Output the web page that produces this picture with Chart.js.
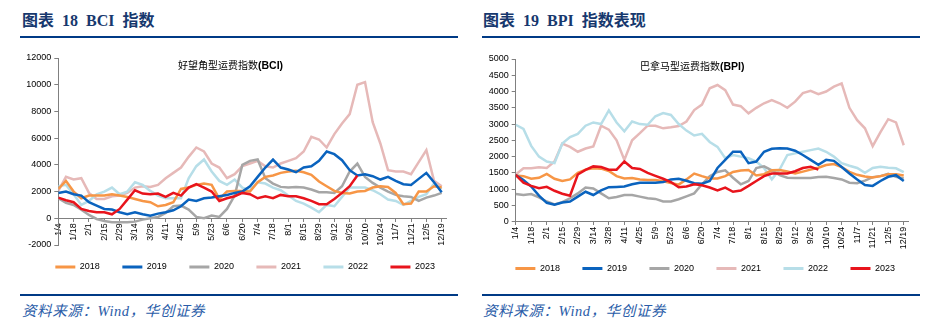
<!DOCTYPE html>
<html>
<head>
<meta charset="utf-8">
<script src="https://cdn.jsdelivr.net/npm/chart.js@4.4.1/dist/chart.umd.min.js"></script>
<style>
  body { margin: 0; width: 930px; height: 335px; background: #fff; position: relative; overflow: hidden; }
  .ttl { position: absolute; top: 12px; font: bold 16px/18px "Liberation Serif", "Noto Sans CJK SC", serif; color: #17386e; word-spacing: 4px; white-space: pre; }
  .rule { position: absolute; height: 2px; background: #003a86; }
  .src { position: absolute; top: 303px; font: italic 14.5px/16px "Liberation Serif", "Noto Sans CJK SC", serif; color: #2a5ca8; letter-spacing: 0.6px; white-space: pre; }
  .box { position: absolute; top: 40px; width: 465px; height: 250px; }
  .sub { position: absolute; font: 10px/12px "Noto Sans CJK SC", sans-serif; color: #000; white-space: nowrap; }
  .sub b { font: bold 10.5px "Liberation Sans", Arial, sans-serif; }
</style>
</head>
<body>
<div class="ttl" style="left:22px">图表 18 BCI 指数</div>
<div class="rule" style="left:20px;top:36px;width:438px"></div>
<div class="box" style="left:0"><canvas id="bci" width="465" height="250"></canvas></div>
<div class="sub" style="left:178px;top:59px">好望角型运费指数<b>(BCI)</b></div>
<div class="rule" style="left:20px;top:294px;width:438px"></div>
<div class="src" style="left:22px">资料来源：Wind，华创证券</div>

<div class="ttl" style="left:483px">图表 19 BPI 指数表现</div>
<div class="rule" style="left:482px;top:36px;width:438px"></div>
<div class="box" style="left:465px"><canvas id="bpi" width="465" height="250"></canvas></div>
<div class="sub" style="left:640px;top:60px">巴拿马型运费指数<b>(BPI)</b></div>
<div class="rule" style="left:482px;top:294px;width:438px"></div>
<div class="src" style="left:483px">资料来源：Wind，华创证券</div>

<script>
// weekly points, tick labels shown every two weeks
const weekLabels = ['1/4','1/11','1/18','1/25','2/1','2/8','2/15','2/22','2/29','3/7','3/14','3/21','3/28',
  '4/4','4/11','4/18','4/25','5/2','5/9','5/16','5/23','5/30','6/6','6/13','6/20','6/27','7/4','7/11',
  '7/18','7/25','8/1','8/8','8/15','8/22','8/29','9/5','9/12','9/19','9/26','10/3','10/10','10/17',
  '10/24','10/31','11/7','11/14','11/21','11/28','12/5','12/12','12/19'];

const years = ['2018', '2019', '2020', '2021', '2022', '2023'];

// BCI
const bci2018 = [2200,2800,2000,1500,1700,1700,1700,1800,1700,1600,1450,1300,1200,900,1000,1200,2200,2300,2500,2600,
  2500,1450,2000,2050,2050,2000,2700,3100,3200,3400,3500,3550,3450,3250,2750,2400,2050,1900,1850,2000,
  2050,2300,2400,2350,1900,1050,1100,2000,2000,2400,2300];
const bci2019 = [1900,2000,1800,1700,1200,950,700,650,450,300,450,300,200,350,450,600,900,1400,1300,1500,
  1550,1650,1750,1900,2000,2400,3100,3800,4400,3800,3650,3450,3800,3900,4300,5000,4800,4350,3600,3200,
  3300,3150,2900,3100,2800,2550,2500,2950,3400,2700,1950];
const bci2020 = [1500,1150,1000,650,250,-50,-200,-300,-300,-300,-250,-100,0,100,400,900,950,650,100,0,
  200,100,700,1700,4000,4300,4400,3000,2600,2350,2300,2350,2300,2150,1950,1950,1900,2400,3500,4100,
  3100,2650,2300,2000,1750,1650,1600,1300,1550,1700,1900];
const bci2021 = [2050,3100,2900,3000,1900,1450,1450,1650,1700,1900,2300,2400,2350,2500,3000,3400,3800,4600,5300,5000,
  4100,3800,3000,3300,3900,4100,4300,3900,3800,4100,4300,4500,5000,6100,5900,5300,6300,7100,7800,10000,
  10200,7200,5600,3600,3500,3500,3300,4200,5100,2800,2400];
const bci2022 = [2400,2500,1800,1000,1300,1800,2000,2300,1800,2000,2700,2500,2050,1700,1500,1500,1500,3000,3900,4400,
  3500,2800,2500,2900,2300,2100,2700,2600,2300,2100,1700,1300,1100,800,450,1000,900,1600,2300,2300,
  2300,2100,1800,1400,1300,1000,1300,1600,1800,2600,2200];
const bci2023 = [1550,1350,1200,700,550,450,450,300,700,1400,2100,1850,1800,1850,1600,1900,1700,2300,2550,2300,
  2000,1300,1500,1650,1900,1800,1500,1650,1500,1750,1650,1650,1500,1300,1050,1050,1450,1900,2400,3200];

// BPI
const bpi2018 = [1420,1400,1320,1350,1470,1320,1250,1300,1500,1600,1640,1630,1560,1400,1330,1340,1300,1280,1280,1240,
  1190,1140,1300,1480,1400,1330,1330,1400,1530,1570,1590,1420,1460,1580,1590,1540,1480,1540,1600,1660,
  1740,1770,1680,1530,1440,1390,1360,1400,1460,1460,1420];
const bpi2019 = [1430,1280,1080,800,580,520,590,620,770,920,820,960,1060,1070,1080,1150,1200,1200,1200,1220,
  1300,1320,1260,1180,1170,1250,1650,1900,2150,2150,1800,1850,2150,2240,2260,2250,2180,2050,1900,1750,
  1900,1870,1680,1480,1300,1130,1100,1250,1380,1430,1250];
const bpi2020 = [850,820,850,750,620,530,600,720,870,1050,1020,870,720,760,820,820,770,720,700,620,
  620,690,780,870,1150,1400,1530,1580,1350,1150,1250,1650,1700,1580,1430,1350,1340,1340,1340,1370,
  1380,1340,1300,1200,1180,1260,1370,1400,1470,1380,1330];
const bpi2021 = [1450,1640,1640,1670,1650,1850,2400,2300,2150,2250,2310,2950,2830,2500,1900,2500,2720,2950,2950,2870,
  2900,2940,3080,3430,3600,4100,4200,4040,3600,3550,3330,3500,3640,3740,3640,3500,3690,3950,4020,3920,
  4000,4150,4250,3500,3120,2870,2320,2750,3150,3050,2350];
const bpi2022 = [2980,2850,2330,2000,1850,1800,2400,2600,2700,2950,3050,3000,3420,3050,2780,3080,3000,2980,3240,3340,
  3280,3000,2800,2650,2700,2450,2300,1950,2050,2000,1950,1850,1650,1300,1600,2050,2100,2150,2200,2250,
  2150,2000,1800,1720,1650,1500,1650,1690,1660,1640,1520];
const bpi2023 = [1440,1200,1100,1030,1070,950,860,800,1450,1590,1700,1680,1600,1600,1850,1650,1620,1500,1410,1320,
  1220,1060,1080,1150,1120,1050,960,1050,920,960,1100,1250,1400,1480,1480,1480,1550,1650,1690,1600];

const lineColors = ['#f79646', '#0a63be', '#a6a6a6', '#e6b9b8', '#b7dee8', '#e8141c'];
const drawOrder = [2, 1, 3, 5, 4, 0];

Chart.defaults.font.family = '"Liberation Sans", Arial, sans-serif';

// moves the legend box after layout without touching the plot area
const legendNudge = {
  id: 'legendNudge',
  afterLayout(chart, args, opts) {
    const lg = chart.legend;
    if (!lg) return;
    lg.top += opts.dy || 0; lg.bottom += opts.dy || 0;
    lg.left += opts.dx || 0; lg.right += opts.dx || 0;
  }
};

function buildDatasets(series) {
  return series.map((vals, k) => ({
    label: years[k],
    data: vals.map((v, i) => ({ x: i, y: v })),
    borderColor: lineColors[k],
    backgroundColor: lineColors[k],
    borderWidth: 2.5,
    pointRadius: 0,
    tension: 0,
    order: drawOrder[k]
  }));
}

function chartOptions(c) {
  return {
    responsive: false,
    animation: false,
    devicePixelRatio: 1,
    layout: { padding: { top: c.padTop, right: c.padRight, bottom: c.padBottom, left: 0 } },
    scales: {
      x: {
        type: 'linear',
        min: 0,
        max: 50.6,
        position: { y: 0 },
        border: { color: '#808080' },
        grid: { drawOnChartArea: false, tickLength: 3, color: '#808080' },
        ticks: {
          stepSize: 2, includeBounds: false, autoSkip: false,
          minRotation: 90, maxRotation: 90, padding: 2,
          color: '#000', font: { size: 9 },
          callback: (v) => weekLabels[v]
        }
      },
      y: {
        min: c.yMin,
        max: c.yMax,
        afterFit: (s) => { s.width = c.yWidth; },
        border: { color: '#808080' },
        grid: { drawOnChartArea: false, tickLength: 4, color: '#808080' },
        ticks: { stepSize: c.yStep, padding: 3, color: '#000', font: { size: 9 }, callback: (v) => String(v) }
      }
    },
    plugins: {
      legend: {
        position: 'bottom',
        labels: {
          boxWidth: 20, boxHeight: 3, padding: 22.5, color: '#000', font: { size: 9 },
          sort: (a, b) => a.datasetIndex - b.datasetIndex,
          generateLabels: (chart) =>
            Chart.defaults.plugins.legend.labels.generateLabels(chart).map((it) => Object.assign(it, { lineWidth: 0 }))
        }
      },
      tooltip: { enabled: false },
      legendNudge: { dx: c.legendDx, dy: c.legendDy }
    }
  };
}

new Chart(document.getElementById('bci'), {
  type: 'line',
  data: { datasets: buildDatasets([bci2018, bci2019, bci2020, bci2021, bci2022, bci2023]) },
  options: chartOptions({
    yMin: -2000, yMax: 12000, yStep: 2000, yWidth: 58.3,
    padTop: 18, padRight: 18.7, padBottom: 3.5,
    legendDx: 22, legendDy: -5
  }),
  plugins: [legendNudge]
});

new Chart(document.getElementById('bpi'), {
  type: 'line',
  data: { datasets: buildDatasets([bpi2018, bpi2019, bpi2020, bpi2021, bpi2022, bpi2023]) },
  options: chartOptions({
    yMin: 0, yMax: 5000, yStep: 500, yWidth: 50.7,
    padTop: 19, padRight: 21.6, padBottom: 26.8,
    legendDx: 18.5, legendDy: 19.8
  }),
  plugins: [legendNudge]
});
</script>
</body>
</html>
